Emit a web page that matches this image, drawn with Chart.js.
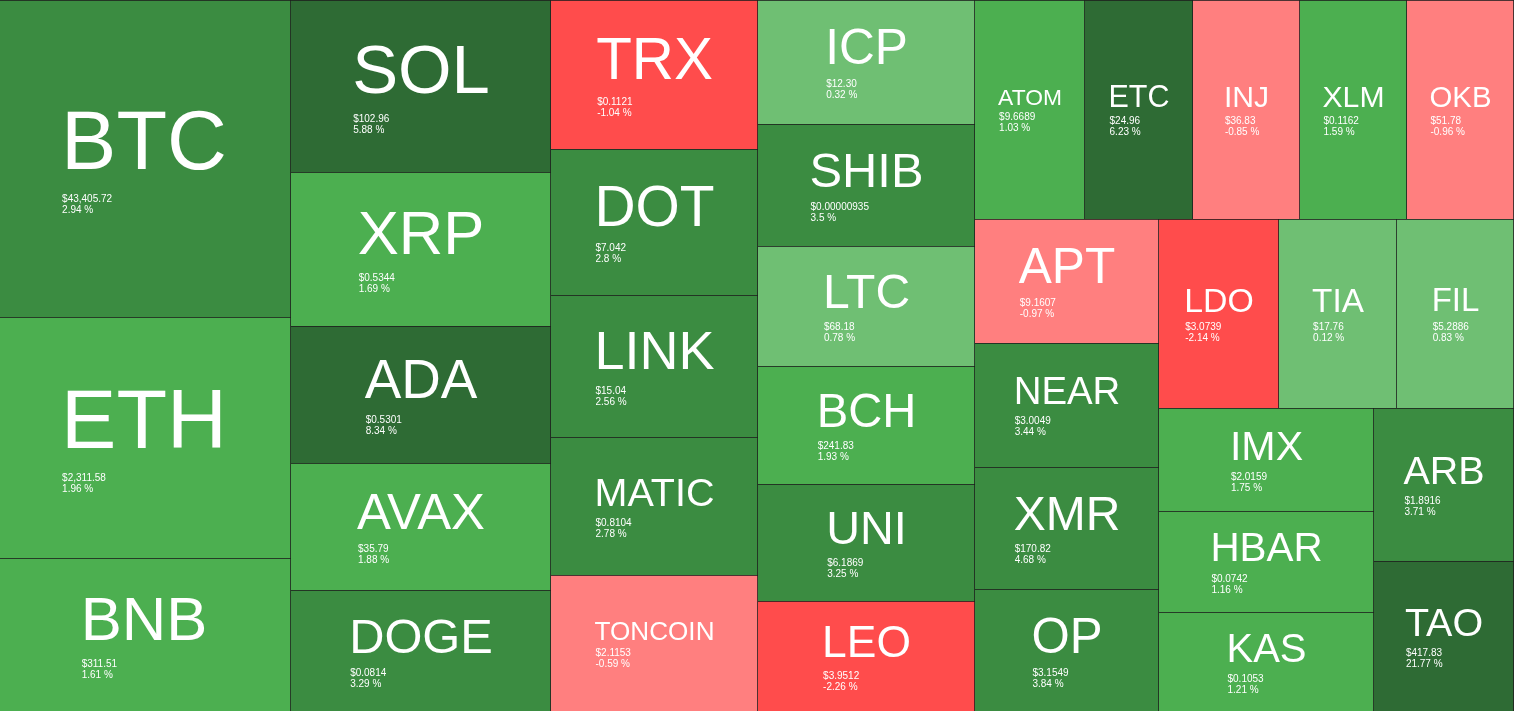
<!DOCTYPE html>
<html>
<head>
<meta charset="utf-8">
<title>Crypto heatmap</title>
<script src="https://cdn.jsdelivr.net/npm/chart.js@4.4.1/dist/chart.umd.min.js"></script>
<style>
  html, body { margin: 0; padding: 0; background: #ffffff; overflow: hidden; }
  #wrap { position: absolute; left: 0; top: 0; width: 1514px; height: 711px; }
</style>
</head>
<body>
<div id="wrap"><canvas id="chart"></canvas></div>
<script>
// ---- data ----
const symbols = ['BTC','ETH','BNB','SOL','XRP','ADA','AVAX','DOGE','TRX','DOT','LINK','MATIC','TONCOIN',
  'ICP','SHIB','LTC','BCH','UNI','LEO','ATOM','ETC','INJ','XLM','OKB','APT','NEAR','XMR','OP',
  'LDO','TIA','FIL','IMX','HBAR','KAS','ARB','TAO'];
const prices = ['$43,405.72','$2,311.58','$311.51','$102.96','$0.5344','$0.5301','$35.79','$0.0814',
  '$0.1121','$7.042','$15.04','$0.8104','$2.1153','$12.30','$0.00000935','$68.18','$241.83','$6.1869',
  '$3.9512','$9.6689','$24.96','$36.83','$0.1162','$51.78','$9.1607','$3.0049','$170.82','$3.1549',
  '$3.0739','$17.76','$5.2886','$2.0159','$0.0742','$0.1053','$1.8916','$417.83'];
const changes = [2.94,1.96,1.61,5.88,1.69,8.34,1.88,3.29,-1.04,2.8,2.56,2.78,-0.59,0.32,3.5,0.78,1.93,
  3.25,-2.26,1.03,6.23,-0.85,1.59,-0.96,-0.97,3.44,4.68,3.84,-2.14,0.12,0.83,1.75,1.16,1.21,3.71,21.77];
// relative tile sizes (areas)
const weights = [93286,70678,45364,44590,39994,35657,32904,31761,30950,30141,29437,28607,28462,
  26806,26567,26004,25506,25354,24054,24101,23685,23358,23347,23347,22909,22909,22630,22630,
  22626,22475,22115,22019,21783,21400,21400,21185];

// ---- layout settings ----
const FRAME = { x0: -3, y0: 0, x1: 1514, y1: 712 };   // treemap frame in axis units (slightly cropped left/bottom)
const RATIO = (1 + Math.sqrt(5)) / 2;
const FONT = '"Liberation Sans", Arial, Helvetica, sans-serif';

function colorFor(ch) {
  if (ch >= 5) return '#2e6b34';
  if (ch >= 2) return '#3b8c41';
  if (ch >= 1) return '#4caf50';
  if (ch >= 0) return '#6fbf73';
  if (ch > -1) return '#ff7f7f';
  return '#ff4c4c';
}

// squarified treemap (golden-ratio target), in data units
function squarify(values, x0, y0, x1, y1, ratio) {
  const n = values.length, out = new Array(n);
  let value = values.reduce((a, b) => a + b, 0);
  let i0 = 0, i1 = 0;
  while (i0 < n) {
    const dx = x1 - x0, dy = y1 - y0;
    let sum = values[i1++], minV = sum, maxV = sum;
    const alpha = Math.max(dy / dx, dx / dy) / (value * ratio);
    let beta = sum * sum * alpha;
    let minRatio = Math.max(maxV / beta, beta / minV);
    for (; i1 < n; ++i1) {
      const v = values[i1];
      sum += v;
      const mn = Math.min(minV, v), mx = Math.max(maxV, v);
      beta = sum * sum * alpha;
      const r = Math.max(mx / beta, beta / mn);
      if (r > minRatio) { sum -= v; break; }
      minRatio = r; minV = mn; maxV = mx;
    }
    const last = i1 >= n;
    if (dx < dy) {
      const h = last ? dy : dy * sum / value;
      let x = x0;
      for (let k = i0; k < i1; k++) {
        const w = (k === i1 - 1) ? x1 - x : dx * values[k] / sum;
        out[k] = { x0: x, y0: y0, x1: x + w, y1: y0 + h };
        x += w;
      }
      y0 += h;
    } else {
      const w = last ? dx : dx * sum / value;
      let y = y0;
      for (let k = i0; k < i1; k++) {
        const h = (k === i1 - 1) ? y1 - y : dy * values[k] / sum;
        out[k] = { x0: x0, y0: y, x1: x0 + w, y1: y + h };
        y += h;
      }
      x0 += w;
    }
    value -= sum;
    i0 = i1;
  }
  return out;
}

const cells = squarify(weights, FRAME.x0, FRAME.y0, FRAME.x1, FRAME.y1, RATIO);

const treemapPlugin = {
  id: 'treemapCells',
  beforeDatasetsDraw(chart) {
    const { ctx, chartArea } = chart;
    const xs = chart.scales.x, ys = chart.scales.y;
    const px = cells.map(c => ({
      X0: Math.round(xs.getPixelForValue(c.x0)),
      X1: Math.round(xs.getPixelForValue(c.x1)),
      Y0: Math.round(ys.getPixelForValue(c.y0)),
      Y1: Math.round(ys.getPixelForValue(c.y1))
    }));
    ctx.save();
    ctx.beginPath();
    ctx.rect(chartArea.left, chartArea.top, chartArea.right - chartArea.left, chartArea.bottom - chartArea.top);
    ctx.clip();
    // fills
    px.forEach((p, i) => {
      ctx.fillStyle = colorFor(changes[i]);
      ctx.fillRect(p.X0, p.Y0, p.X1 - p.X0, p.Y1 - p.Y0);
    });
    // borders (top + right of each tile)
    ctx.fillStyle = 'rgba(28,28,28,0.78)';
    px.forEach(p => {
      ctx.fillRect(p.X0, p.Y0, p.X1 - p.X0, 1);
      ctx.fillRect(p.X1 - 1, p.Y0, 1, p.Y1 - p.Y0);
    });
    // labels
    ctx.fillStyle = '#ffffff';
    ctx.textBaseline = 'alphabetic';
    px.forEach((p, i) => {
      const w = p.X1 - p.X0, h = p.Y1 - p.Y0;
      const cx = (p.X0 + p.X1) / 2, cy = (p.Y0 + p.Y1) / 2;
      ctx.font = '100px ' + FONT;
      const em = ctx.measureText(symbols[i]).width / 100;
      const f = Math.min(0.282 * w, 0.40 * h, 0.58 * w / em);
      ctx.font = f.toFixed(2) + 'px ' + FONT;
      ctx.textAlign = 'center';
      const base = cy + 0.254 * f - 10.45;
      ctx.fillText(symbols[i], cx, base);
      const tw = ctx.measureText(symbols[i]).width;
      const left = cx - tw / 2 + 1;
      ctx.textAlign = 'left';
      ctx.font = '10px ' + FONT;
      const pb = base + 0.287 * f + 8.9;
      ctx.fillText(prices[i], left, pb);
      ctx.fillText(changes[i] + ' %', left, pb + 11);
    });
    ctx.restore();
  }
};

new Chart(document.getElementById('chart'), {
  type: 'scatter',
  data: {
    datasets: [{
      label: 'Market heatmap',
      data: cells.map(c => ({ x: (c.x0 + c.x1) / 2, y: (c.y0 + c.y1) / 2 })),
      pointRadius: 0,
      pointHoverRadius: 0
    }]
  },
  options: {
    responsive: true,
    maintainAspectRatio: false,
    animation: false,
    layout: { padding: 0 },
    plugins: { legend: { display: false }, tooltip: { enabled: false } },
    scales: {
      x: { type: 'linear', min: 0, max: 1514, display: false },
      y: { type: 'linear', min: 0, max: 711, reverse: true, display: false }
    }
  },
  plugins: [treemapPlugin]
});
</script>
</body>
</html>
